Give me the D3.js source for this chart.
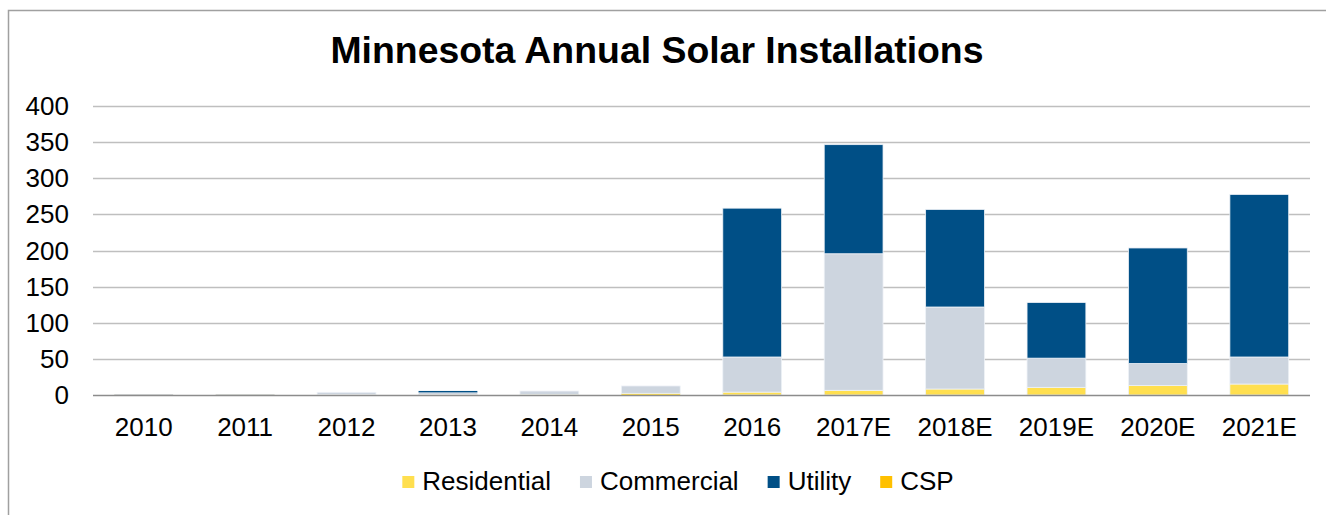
<!DOCTYPE html>
<html>
<head>
<meta charset="utf-8">
<script src="https://cdn.jsdelivr.net/npm/d3@7"></script>
<style>
  html, body { margin: 0; padding: 0; background: #fff; }
  text { font-family: "Liberation Sans", Arial, sans-serif; fill: #000; }
</style>
</head>
<body>
<svg id="chart" width="1326" height="515"></svg>
<script>
const categories = ["2010","2011","2012","2013","2014","2015","2016","2017E","2018E","2019E","2020E","2021E"];
const residential = [0.3, 0.3, 0.5, 0.6, 0.8, 2.3, 4, 6.5, 8.3, 10.6, 13, 15.2];
const commercial  = [1.0, 0.9, 3.2, 3.0, 4.7, 10.2, 48.6, 189, 113.5, 40.4, 30.5, 37.4];
const utility     = [0, 0, 0, 2.0, 0, 0, 206, 151, 135, 77, 160, 225];
const csp         = [0, 0, 0, 0, 0, 0, 0, 0, 0, 0, 0, 0];
const seriesNames = ["Residential","Commercial","Utility","CSP"];
const yTicks = [0, 50, 100, 150, 200, 250, 300, 350, 400];
const title = "Minnesota Annual Solar Installations";

const colors = {Residential: "#FFDF4F", Commercial: "#CDD5DF", Utility: "#004F86", CSP: "#FFC000"};

const rows = categories.map((c, i) => ({
  cat: c, Residential: residential[i], Commercial: commercial[i], Utility: utility[i], CSP: csp[i]
}));

const svg = d3.select("#chart");

// outer frame (left + top edges visible)
svg.append("path")
  .attr("d", "M8.5,515 L8.5,10.5 L1326,10.5")
  .attr("fill", "none").attr("stroke", "#A0A0A0").attr("stroke-width", 1.5);

const x = d3.scaleBand().domain(categories).range([93, 1310]).paddingInner(0.42).paddingOuter(0.21);
const y = d3.scaleLinear().domain([0, 400]).range([395, 106]);

// gridlines
svg.append("g").selectAll("line").data(yTicks.filter(t => t > 0)).join("line")
  .attr("x1", 93).attr("x2", 1310)
  .attr("y1", d => Math.round(y(d)) + 0.5).attr("y2", d => Math.round(y(d)) + 0.5)
  .attr("stroke", "#BFBFBF").attr("stroke-width", 1.3);

// y labels
svg.append("g").selectAll("text").data(yTicks).join("text")
  .attr("x", 69).attr("y", d => y(d)).attr("dy", "0.35em")
  .attr("text-anchor", "end").attr("font-size", 26)
  .text(d => d);

// stacked bars
const stack = d3.stack().keys(seriesNames);
const layers = stack(rows);
svg.append("g").selectAll("g").data(layers).join("g")
  .attr("fill", d => colors[d.key])
  .selectAll("rect").data(d => d).join("rect")
  .attr("x", d => x(d.data.cat))
  .attr("width", x.bandwidth())
  .attr("y", d => y(d[1]))
  .attr("height", d => Math.max(0, y(d[0]) - y(d[1])))
  .attr("stroke", d => (y(d[0]) - y(d[1])) > 2 ? "#EEF2F7" : "none")
  .attr("stroke-width", 0.8);

// baseline
svg.append("line")
  .attr("x1", 93).attr("x2", 1310).attr("y1", 395.5).attr("y2", 395.5)
  .attr("stroke", "#8C8C8C").attr("stroke-width", 1.3);

// x labels
svg.append("g").selectAll("text").data(categories).join("text")
  .attr("x", d => x(d) + x.bandwidth() / 2).attr("y", 436)
  .attr("text-anchor", "middle").attr("font-size", 26)
  .text(d => d);

// title
svg.append("text")
  .attr("x", 657).attr("y", 63).attr("text-anchor", "middle")
  .attr("font-size", 37.4).attr("font-weight", "bold")
  .text(title);

// legend
const lg = svg.append("g");
const items = lg.selectAll("g").data(seriesNames).join("g");
items.append("rect").attr("width", 12).attr("height", 12).attr("y", 476)
  .attr("fill", d => colors[d]);
items.append("text").attr("x", 20).attr("y", 490).attr("font-size", 26).text(d => d);
const widths = [];
items.each(function(d) {
  widths.push(20 + this.querySelector("text").getComputedTextLength());
});
const gap = 29;
const total = d3.sum(widths) + gap * (widths.length - 1);
let start = 678 - total / 2;
items.attr("transform", (d, i) => {
  const tx = start;
  start += widths[i] + gap;
  return `translate(${tx},0)`;
});
</script>
</body>
</html>
